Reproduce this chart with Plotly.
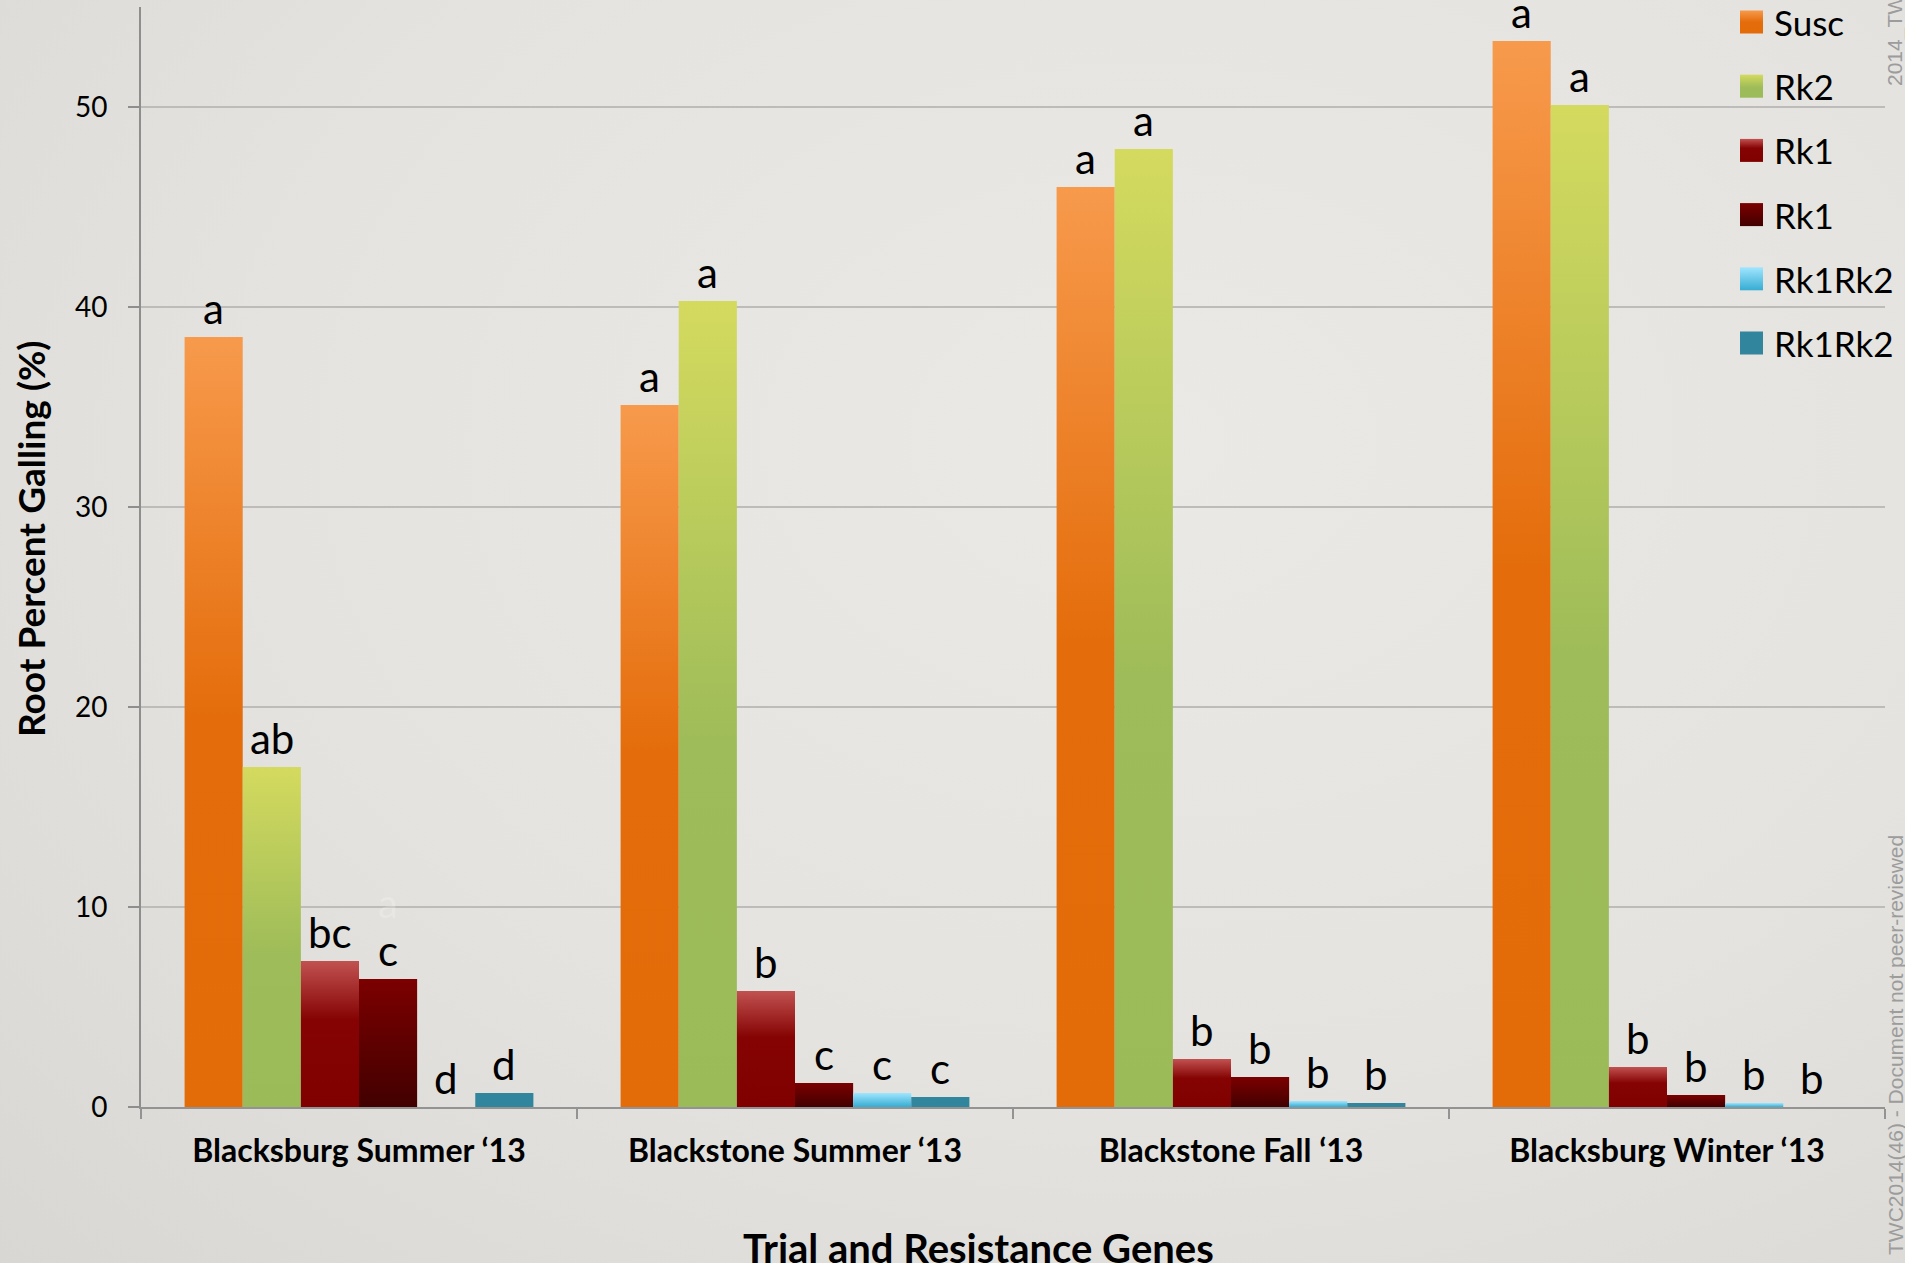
import json
import plotly.graph_objects as go

# ---- data -------------------------------------------------------------
trials = ["Blacksburg Summer ‘13", "Blackstone Summer ‘13",
          "Blackstone Fall ‘13", "Blacksburg Winter ‘13"]
series_names = ["Susc", "Rk2", "Rk1", "Rk1", "Rk1Rk2", "Rk1Rk2"]

susc = [38.5, 35.1, 46.0, 53.3]
rk2 = [17.0, 40.3, 47.9, 50.1]
rk1_a = [7.3, 5.8, 2.4, 2.0]
rk1_b = [6.4, 1.2, 1.5, 0.6]
rk1rk2_a = [0.0, 0.7, 0.3, 0.2]
rk1rk2_b = [0.7, 0.5, 0.2, 0.0]

# mean-separation letters for each bar
letters_susc = ["a", "a", "a", "a"]
letters_rk2 = ["ab", "a", "a", "a"]
letters_rk1_a = ["bc", "b", "b", "b"]
letters_rk1_b = ["c", "c", "b", "b"]
letters_rk1rk2_a = ["d", "c", "b", "b"]
letters_rk1rk2_b = ["d", "c", "b", "b"]

y_ticks = [0, 10, 20, 30, 40, 50]

values = [susc, rk2, rk1_a, rk1_b, rk1rk2_a, rk1rk2_b]
letters = [letters_susc, letters_rk2, letters_rk1_a, letters_rk1_b,
           letters_rk1rk2_a, letters_rk1rk2_b]

# ---- styling ----------------------------------------------------------
base_colors = ["#E8741A", "#A8C25A", "#870707", "#5E0000", "#6ECBEA", "#31859C"]
# vertical fills (top -> bottom) applied to every bar of a series
fills = [
    [[0, "#F79A4C"], [0.5, "#E46C0A"], [1, "#E36C09"]],
    [[0, "#D4DA5E"], [0.55, "#9EBC59"], [1, "#9BBB59"]],
    [[0, "#C15250"], [0.4, "#850303"], [1, "#800000"]],
    [[0, "#7C0000"], [1, "#420000"]],
    [[0, "#A0E6FF"], [1, "#36ACD2"]],
    [[0, "#31859C"], [1, "#31859C"]],
]

FONT = "Lato, 'Open Sans', sans-serif"
BG = "#E4E3DF"
W, H = 1905, 1263
L, R, T, B = 141, 20, 7, 156
plot_w, plot_h = W - L - R, H - T - B
n_series = len(values)
group_width = 0.8


def px_x(px):
    return (px - L) / plot_w


def px_y(py):
    return (H - B - py) / plot_h


fig = go.Figure()
for k, (name, vals) in enumerate(zip(series_names, values)):
    fig.add_trace(go.Bar(
        x=trials, y=vals, name=name,
        marker=dict(color=base_colors[k], line=dict(width=0)),
        showlegend=False,
    ))

annotations = []
# letters above each bar
for k in range(n_series):
    offset = (k - (n_series - 1) / 2) * group_width / n_series
    for i, (v, txt) in enumerate(zip(values[k], letters[k])):
        annotations.append(dict(
            x=i + offset, y=v, xref="x", yref="y", text=txt,
            showarrow=False, xanchor="center", yanchor="bottom", yshift=2,
            font=dict(family=FONT, size=42, color="#000000"),
        ))

# faint leftover label in the first group
annotations.append(dict(
    x=0 + (3 - 2.5) * group_width / n_series, y=10.2, xref="x", yref="y",
    text="a", showarrow=False, yanchor="middle",
    font=dict(family=FONT, size=40, color="rgba(255,255,255,0.22)"),
))

# axis titles
annotations.append(dict(
    x=px_x(30), y=px_y(539), xref="paper", yref="paper",
    text="Root Percent Galling (%)", textangle=-90, showarrow=False,
    xanchor="center", yanchor="middle",
    font=dict(family=FONT, size=37, color="#000000", weight="bold"),
))
annotations.append(dict(
    x=px_x(978), y=px_y(1248), xref="paper", yref="paper",
    text="Trial and Resistance Genes", showarrow=False,
    xanchor="center", yanchor="middle",
    font=dict(family=FONT, size=40, color="#000000", weight="bold"),
))

# side notes
annotations.append(dict(
    x=px_x(1895), y=px_y(1045), xref="paper", yref="paper",
    text="TWC2014(46) - Document not peer-reviewed", textangle=-90,
    showarrow=False, xanchor="center", yanchor="middle",
    font=dict(family="Liberation Sans, Arial, sans-serif", size=21, color="#9C9C9C"),
))
annotations.append(dict(
    x=px_x(1895), y=px_y(88), xref="paper", yref="paper",
    text="2014_TWC", textangle=-90,
    showarrow=False, xanchor="center", yanchor="bottom",
    font=dict(family="Liberation Sans, Arial, sans-serif", size=21, color="#9C9C9C"),
))

# legend: swatches and labels
shapes = []
sw = 23
for k, name in enumerate(series_names):
    cy = 22 + k * 64.2
    shapes.append(dict(
        type="rect", xref="paper", yref="paper", layer="above",
        x0=px_x(1740), x1=px_x(1740 + sw),
        y0=px_y(cy + sw / 2), y1=px_y(cy - sw / 2),
        fillcolor=base_colors[k], line=dict(width=0),
    ))
    annotations.append(dict(
        x=px_x(1772), y=px_y(cy), xref="paper", yref="paper",
        text=name, showarrow=False, xanchor="left", yanchor="middle",
        font=dict(family=FONT, size=35, color="#000000"),
    ))

fig.update_layout(
    width=W, height=H,
    margin=dict(l=L, r=R, t=T, b=B, pad=0),
    paper_bgcolor=BG, plot_bgcolor="rgba(0,0,0,0)",
    barmode="group", bargap=0.2, bargroupgap=0,
    annotations=annotations, shapes=shapes,
    showlegend=False,
    font=dict(family=FONT, color="#000000"),
)
fig.update_xaxes(
    type="category", showline=True, linecolor="#939393", linewidth=2,
    ticks="outside", tickson="boundaries", ticklen=10, tickwidth=2,
    tickcolor="#939393", showgrid=False, zeroline=False,
    tickfont=dict(family=FONT, size=32, color="#000000", weight="bold"),
    ticklabelstandoff=15,
)
fig.update_yaxes(
    range=[0, 55], tickvals=y_ticks, showline=True, linecolor="#8E8E8E",
    linewidth=2, ticks="outside", ticklen=11, tickwidth=2, tickcolor="#8E8E8E",
    showgrid=True, gridcolor="#BDBCBA", gridwidth=2, zeroline=False,
    tickfont=dict(family=FONT, size=28, color="#000000"),
    ticklabelstandoff=15,
)

# apply the vertical colour fills to the bars and legend swatches once drawn
post = """
var gd = document.getElementById('{plot_id}');
var NS = 'http://www.w3.org/2000/svg';
var fills = FILLS;
var svg = gd.querySelector('svg.main-svg');
svg.style.background = 'radial-gradient(ellipse at 60% 35%, #EAE9E5 0%, #E4E3DF 55%, #D8D7D3 100%)';
var defs = svg.querySelector('defs');
fills.forEach(function(stops, i) {
  var g = document.createElementNS(NS, 'linearGradient');
  g.setAttribute('id', 'barfill' + i);
  g.setAttribute('x1', '0'); g.setAttribute('y1', '0');
  g.setAttribute('x2', '0'); g.setAttribute('y2', '1');
  stops.forEach(function(s) {
    var st = document.createElementNS(NS, 'stop');
    st.setAttribute('offset', s[0]);
    st.setAttribute('stop-color', s[1]);
    g.appendChild(st);
  });
  defs.appendChild(g);
});
gd.querySelectorAll('.barlayer .trace').forEach(function(t, i) {
  t.querySelectorAll('path').forEach(function(p) {
    p.style.fill = 'url(#barfill' + i + ')';
  });
});
gd.querySelectorAll('.shapelayer path').forEach(function(p) {
  var k = p.getAttribute('data-index');
  if (k !== null && +k < fills.length) p.style.fill = 'url(#barfill' + k + ')';
});
""".replace("FILLS", json.dumps(fills))

fig.write_html("out.html", post_script=post)
